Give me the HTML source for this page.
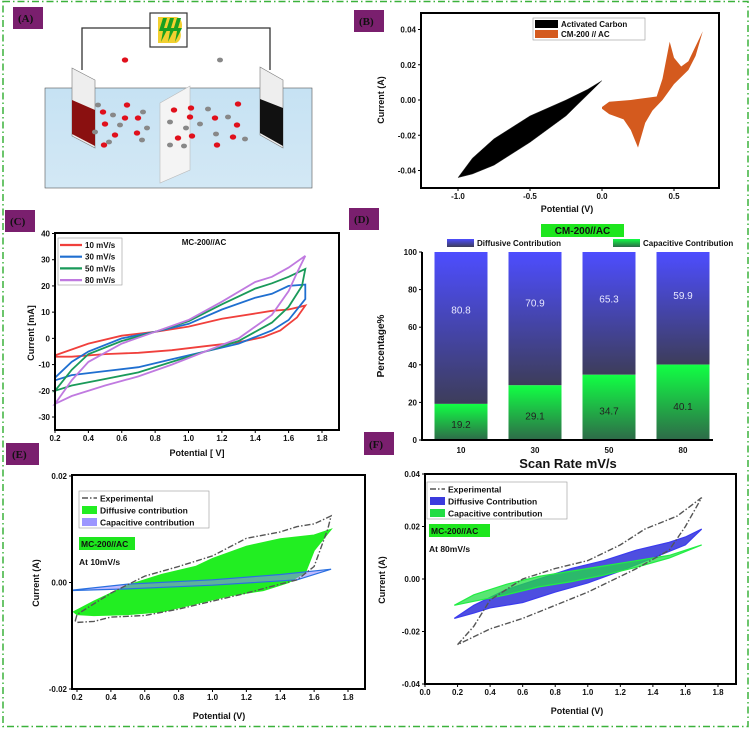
<!DOCTYPE html>
<html><head><meta charset="utf-8">
<style>
html,body{margin:0;padding:0;background:#fff;}
svg{display:block;font-family:"Liberation Sans",Arial,sans-serif;}
.lbl{font-family:"Liberation Serif",serif;font-weight:bold;font-size:11px;fill:#111;}
.tk{font-size:8px;font-weight:bold;fill:#111;}
.at{font-size:9px;font-weight:bold;fill:#111;}
</style></head>
<body>
<svg id="fig" width="752" height="730" viewBox="0 0 752 730">
<defs>
<linearGradient id="gBlue" x1="0" y1="0" x2="0" y2="1"><stop offset="0" stop-color="#4d4dff"/><stop offset="1" stop-color="#3d3d5a"/></linearGradient>
<linearGradient id="gGreen" x1="0" y1="0" x2="0" y2="1"><stop offset="0" stop-color="#11ff44"/><stop offset="1" stop-color="#2e6a48"/></linearGradient>
<linearGradient id="water" x1="0" y1="0" x2="0" y2="1"><stop offset="0" stop-color="#c6e2f3"/><stop offset="1" stop-color="#d3e8f5"/></linearGradient>
</defs>
<rect x="3" y="1.5" width="745" height="725" fill="none" stroke="#3bb23b" stroke-width="1.5" stroke-dasharray="7,3,1.5,3"/>

<!-- Panel A schematic -->
<g>
<rect x="45" y="88" width="267" height="100" fill="url(#water)" stroke="#555" stroke-width="0.6"/>
<polyline points="82,70 82,28 150,28" fill="none" stroke="#333" stroke-width="1.3"/>
<polyline points="187,28 270,28 270,70" fill="none" stroke="#333" stroke-width="1.3"/>
<rect x="150" y="13" width="37" height="34" fill="#fff" stroke="#333" stroke-width="1.2"/>
<path d="M158,17 h18 a6,8 0 0 1 4,14 a6,8 0 0 1 -4,12 h-18 z" fill="#f2d030"/>
<g fill="#1aa020">
<polygon points="163,18 167,18 164,28 168,28 161,42 163,31 159,31"/>
<polygon points="170,18 174,18 171,28 175,28 168,42 170,31 166,31"/>
<polygon points="177,18 181,18 178,28 182,28 175,42 177,31 173,31"/>
</g>
<polygon points="72,68 95,80 95,148 72,136" fill="#eee" stroke="#777" stroke-width="0.6"/>
<polygon points="72,100 95,110 95,146 72,134" fill="#8a1010"/>
<polygon points="260,67 283,80 283,148 260,135" fill="#eee" stroke="#777" stroke-width="0.6"/>
<polygon points="260,99 283,108 283,146 260,133" fill="#111"/>
<polygon points="160,103 190,86 190,170 160,183" fill="#f4f4f4" stroke="#bbb" stroke-width="0.6"/>
<g id="ions"></g>
</g>
<rect x="13" y="7" width="30" height="22" fill="#7a1f6e"/><text class="lbl" x="18" y="22">(A)</text>
<rect x="354" y="10" width="30" height="22" fill="#7a1f6e"/><text class="lbl" x="359" y="25">(B)</text>
<rect x="5" y="210" width="30" height="22" fill="#7a1f6e"/><text class="lbl" x="10" y="225">(C)</text>
<rect x="349" y="208" width="30" height="22" fill="#7a1f6e"/><text class="lbl" x="354" y="223">(D)</text>
<rect x="6" y="443" width="33" height="22" fill="#7a1f6e"/><text class="lbl" x="12" y="458">(E)</text>
<rect x="364" y="432" width="30" height="23" fill="#7a1f6e"/><text class="lbl" x="369" y="448">(F)</text>
<g id="plots"></g>
</svg>
<script>
// ===== Panel B data =====
const bXTicks = [-1.0, -0.5, 0.0, 0.5];
const bYTicks = [0.04, 0.02, 0.00, -0.02, -0.04];
const bAC = [[-1,-0.044],[-0.9,-0.033],[-0.75,-0.022],[-0.5,-0.009],[-0.25,0.0],[-0.1,0.006],[0,0.011],[-0.1,0.003],[-0.25,-0.009],[-0.5,-0.024],[-0.75,-0.037],[-0.9,-0.042],[-1,-0.044]];
const bCM = [[0,-0.004],[0.05,-0.001],[0.2,0.0],[0.38,0.002],[0.42,0.012],[0.47,0.033],[0.5,0.024],[0.55,0.019],[0.6,0.022],[0.7,0.039],[0.65,0.025],[0.6,0.017],[0.5,0.009],[0.42,0.0],[0.35,-0.006],[0.3,-0.013],[0.25,-0.027],[0.2,-0.017],[0.15,-0.011],[0.05,-0.008],[0,-0.005]];
// ===== Panel C data =====
const cXTicks = [0.2,0.4,0.6,0.8,1.0,1.2,1.4,1.6,1.8];
const cYTicks = [40,30,20,10,0,-10,-20,-30];
const cLabels = ["10 mV/s","30 mV/s","50 mV/s","80 mV/s"];
const c10 = [[0.2,-6.5],[0.4,-2],[0.6,1],[0.8,2.5],[1.0,4.5],[1.2,7.5],[1.4,9.5],[1.5,10.5],[1.6,11],[1.7,12.5],[1.65,8],[1.55,3],[1.45,0.5],[1.3,-1.5],[1.1,-3],[0.9,-4.5],[0.7,-5.5],[0.5,-6],[0.3,-7],[0.2,-7]];
const c30 = [[0.2,-15],[0.3,-9],[0.4,-5],[0.6,0],[0.8,2.5],[1.0,5.5],[1.2,11],[1.4,15.5],[1.5,17],[1.6,20],[1.7,20.5],[1.7,15],[1.6,7],[1.5,3],[1.3,-2],[1.1,-5],[0.9,-8],[0.7,-11],[0.5,-12.5],[0.3,-14],[0.2,-16]];
const c50 = [[0.2,-20],[0.3,-12],[0.4,-6],[0.6,-1],[0.8,2.5],[1.0,6.5],[1.2,13],[1.4,19],[1.5,21],[1.6,23.5],[1.7,26.5],[1.68,20],[1.6,12],[1.5,6],[1.3,-1],[1.1,-5],[0.9,-9],[0.7,-13],[0.5,-15.5],[0.3,-18],[0.2,-20]];
const c80 = [[0.2,-25],[0.3,-16],[0.4,-9],[0.6,-2],[0.8,2.5],[1.0,7],[1.2,14],[1.4,21.5],[1.5,23.5],[1.6,27],[1.7,31.5],[1.65,25],[1.6,18],[1.5,9],[1.3,0],[1.1,-5],[0.9,-10],[0.7,-14.5],[0.5,-18],[0.3,-22],[0.2,-25]];
// ===== Panel D data =====
const dCategories = ["10","30","50","80"];
const dCapacitive = [19.2, 29.1, 34.7, 40.1];
const dDiffusive = [80.8, 70.9, 65.3, 59.9];
const dYTicks = [0,20,40,60,80,100];
// ===== Panel E data =====
const eXTicks = [0.2,0.4,0.6,0.8,1.0,1.2,1.4,1.6,1.8];
const eYTicks = [0.02,0.00,-0.02];
const eExp = [[0.19,-0.0072],[0.2,-0.006],[0.4,-0.002],[0.6,0.0012],[0.8,0.003],[1.0,0.005],[1.2,0.0083],[1.4,0.0095],[1.5,0.0105],[1.6,0.011],[1.7,0.0125],[1.68,0.010],[1.6,0.003],[1.5,0.0005],[1.4,-0.0003],[1.2,-0.002],[1.0,-0.0035],[0.8,-0.005],[0.6,-0.0062],[0.4,-0.0065],[0.3,-0.0073],[0.2,-0.0075]];
const eDiff = [[0.18,-0.0055],[0.3,-0.0035],[0.5,-0.0005],[0.7,0.0015],[0.9,0.003],[1.0,0.0045],[1.2,0.0068],[1.4,0.0082],[1.6,0.0089],[1.7,0.010],[1.6,0.006],[1.55,0.002],[1.45,0.0],[1.3,-0.0015],[1.1,-0.0025],[0.9,-0.004],[0.7,-0.0055],[0.5,-0.006],[0.3,-0.0062],[0.2,-0.006]];
const eCap = [[0.18,-0.0014],[0.5,-0.0003],[1.0,0.0005],[1.4,0.0015],[1.7,0.0025],[1.5,0.0005],[1.0,-0.0005],[0.5,-0.0012],[0.18,-0.0015]];
// ===== Panel F data =====
const fXTicks = [0.0,0.2,0.4,0.6,0.8,1.0,1.2,1.4,1.6,1.8];
const fYTicks = [0.04,0.02,0.00,-0.02,-0.04];
const fExp = [[0.2,-0.025],[0.3,-0.018],[0.4,-0.008],[0.6,0.0],[0.8,0.004],[1.0,0.007],[1.2,0.013],[1.35,0.019],[1.55,0.024],[1.7,0.031],[1.6,0.02],[1.5,0.011],[1.3,0.004],[1.2,0.001],[1.0,-0.005],[0.8,-0.010],[0.6,-0.015],[0.4,-0.019],[0.3,-0.022],[0.2,-0.025]];
const fDiff = [[0.18,-0.015],[0.3,-0.010],[0.5,-0.004],[0.7,0.0],[0.9,0.004],[1.1,0.007],[1.3,0.011],[1.5,0.014],[1.6,0.016],[1.7,0.019],[1.6,0.013],[1.4,0.008],[1.2,0.003],[1.0,-0.0015],[0.8,-0.005],[0.6,-0.009],[0.4,-0.011],[0.3,-0.013],[0.18,-0.015]];
const fCap = [[0.18,-0.010],[0.3,-0.006],[0.5,-0.002],[0.7,0.001],[0.9,0.003],[1.1,0.005],[1.3,0.007],[1.5,0.009],[1.7,0.013],[1.5,0.008],[1.3,0.0045],[1.1,0.0015],[0.9,-0.001],[0.7,-0.003],[0.5,-0.006],[0.3,-0.0085],[0.18,-0.010]];

const NS = "http://www.w3.org/2000/svg";
const root = document.getElementById("plots");
function mk(tag, attrs, parent, text){
  const e = document.createElementNS(NS, tag);
  for (const k in attrs) e.setAttribute(k, attrs[k]);
  if (text !== undefined) e.textContent = text;
  (parent || root).appendChild(e);
  return e;
}
function lin(d0,d1,r0,r1){ return v => r0 + (v-d0)/(d1-d0)*(r1-r0); }
function pts(arr, sx, sy){ return arr.map(p => sx(p[0]).toFixed(1)+","+sy(p[1]).toFixed(1)).join(" "); }
function frame(x0,y0,x1,y1,name){
  const r = mk("rect",{x:x0,y:y0,width:x1-x0,height:y1-y0,fill:"none",stroke:"#000","stroke-width":2});
  
  
}
function xAxis(ticks, sx, yb, fmt, name){
  ticks.forEach(t=>{
    const l = mk("line",{x1:sx(t),x2:sx(t),y1:yb,y2:yb+3,stroke:"#000","stroke-width":1});
    
    
    const tx = mk("text",{x:sx(t),y:yb+11,"text-anchor":"middle",class:"tk"},null,fmt(t));
    
    
  });
}
function yAxis(ticks, sy, xl, fmt, name){
  ticks.forEach(t=>{
    const l = mk("line",{x1:xl-3,x2:xl,y1:sy(t),y2:sy(t),stroke:"#000","stroke-width":1});
    
    
    const tx = mk("text",{x:xl-5,y:sy(t)+3,"text-anchor":"end",class:"tk"},null,fmt(t));
    
    
  });
}
function title(x,y,txt,rot,name,size){
  const a = {x:x,y:y,"text-anchor":"middle",class:"at"};
  if (size) a.style = "font-size:"+size+"px";
  if (rot) a.transform = "rotate(-90 "+x+" "+y+")";
  const t = mk("text",a,null,txt);
  
  
  return t;
}
const f2 = t => t.toFixed(2);
const f1 = t => t.toFixed(1);

// ===== Panel B =====
{
  const sx = lin(-1,0,458,602), sy = lin(0,0.04,100,29.5);
  const s1 = mk("polygon",{points:pts(bAC,sx,sy),fill:"#000",stroke:"#333","stroke-width":0.5});
  
  
  const s2 = mk("polygon",{points:pts(bCM,sx,sy),fill:"#d45a1e"});
  
  
  frame(421,13,719,188,'panel-b-plot-frame');
  xAxis(bXTicks,sx,188,f1,'panel-b-x');
  yAxis(bYTicks,sy,421,f2,'panel-b-y');
  title(567,212,"Potential (V)",false,'panel-b-x-title');
  title(384,100,"Current (A)",true,'panel-b-y-title');
  const lg = mk("rect",{x:533,y:18,width:112,height:22,fill:"#fff",stroke:"#999","stroke-width":0.6});
  
  
  [["#000","Activated Carbon"],["#d45a1e","CM-200 // AC"]].forEach((e,i)=>{
    const sw = mk("rect",{x:535,y:20+i*10,width:23,height:8,fill:e[0]});
    
    
    const t = mk("text",{x:561,y:27+i*10,class:"tk"},null,e[1]);
    
    
  });
}

// ===== Panel C =====
{
  const sx = lin(0.2,1.8,55,322), sy = lin(40,-30,233.5,417);
  const cols = ["#f0403c","#1f6fd0","#1a9a5a","#c07ae0"];
  [c10,c30,c50,c80].forEach((s,i)=>{
    const p = mk("polygon",{points:pts(s,sx,sy),fill:"none",stroke:cols[i],"stroke-width":1.8});
    
    
  });
  frame(55,233,339,430,'panel-c-plot-frame');
  xAxis(cXTicks,sx,430,f1,'panel-c-x');
  yAxis(cYTicks,sy,55,t=>String(t),'panel-c-y');
  title(197,456,"Potential [ V]",false,'panel-c-x-title');
  title(34,333,"Current [mA]",true,'panel-c-y-title');
  const tt = mk("text",{x:204,y:245,"text-anchor":"middle",class:"tk"},null,"MC-200//AC");
  
  
  const lg = mk("rect",{x:58,y:238,width:64,height:47,fill:"#fff",stroke:"#999","stroke-width":0.6});
  
  
  cLabels.forEach((l,i)=>{
    const y = 245+i*11.7;
    const ln = mk("line",{x1:60,x2:82,y1:y,y2:y,stroke:cols[i],"stroke-width":2.2});
    
    
    const t = mk("text",{x:85,y:y+3,class:"tk"},null,l);
    
    
  });
}

// ===== Panel D =====
{
  const sy = lin(0,100,440,252);
  const band = 74, bw = 53, x0 = 424;
  const cx = i => x0 + band*(i+0.5);
  dCategories.forEach((c,i)=>{
    const gH = sy(0)-sy(dCapacitive[i]);
    const bTop = sy(dCapacitive[i]+dDiffusive[i]);
    const b1 = mk("rect",{x:cx(i)-bw/2,y:bTop,width:bw,height:sy(dCapacitive[i])-bTop,fill:"url(#gBlue)"});
    
    
    const b2 = mk("rect",{x:cx(i)-bw/2,y:sy(dCapacitive[i]),width:bw,height:gH,fill:"url(#gGreen)"});
    
    
    const t1 = mk("text",{x:cx(i),y:sy(dCapacitive[i]+dDiffusive[i]*0.62)+4,"text-anchor":"middle","font-size":"10","fill":"#e8e8ff"},null,dDiffusive[i].toFixed(1));
    
    
    const t2 = mk("text",{x:cx(i),y:sy(dCapacitive[i]*0.45)+4,"text-anchor":"middle","font-size":"10","fill":"#222"},null,dCapacitive[i].toFixed(1));
    
    
    const tk = mk("text",{x:cx(i),y:453,"text-anchor":"middle",class:"tk"},null,c);
    
    
  });
  const ax = mk("polyline",{points:"422,252 422,440 713,440",fill:"none",stroke:"#000","stroke-width":2});
  
  
  yAxis(dYTicks,sy,422,t=>String(t),'panel-d-y');
  title(568,468,"Scan Rate mV/s",false,'panel-d-x-title',13);
  title(384,346,"Percentage%",true,'panel-d-y-title',10);
  const tb = mk("rect",{x:541,y:224,width:83,height:13,fill:"#1ee61e"});
  
  
  const tt = mk("text",{x:582.5,y:234,"text-anchor":"middle","font-size":"10","font-weight":"bold",fill:"#111"},null,"CM-200//AC");
  
  
  const s1 = mk("rect",{x:447,y:239,width:27,height:8,fill:"url(#gBlue)"});
  
  
  const l1 = mk("text",{x:477,y:246,class:"tk"},null,"Diffusive Contribution");
  
  
  const s2 = mk("rect",{x:613,y:239,width:27,height:8,fill:"url(#gGreen)"});
  
  
  const l2 = mk("text",{x:643,y:246,class:"tk"},null,"Capacitive Contribution");
  
  
}

// ===== Panel E / F helper =====
function cvPanel(o){
  const sx = lin(o.xd[0],o.xd[1],o.xr[0],o.xr[1]), sy = lin(o.yd[0],o.yd[1],o.yr[0],o.yr[1]);
  o.fills.forEach(f=>{
    const p = mk("polygon",{points:pts(f.d,sx,sy),fill:f.fill,stroke:f.stroke,"stroke-width":1.2,"fill-opacity":f.op});
    
    
  });
  const e = mk("polygon",{points:pts(o.exp,sx,sy),fill:"none",stroke:"#555","stroke-width":1.4,"stroke-dasharray":"6,2,1.5,2"});
  
  
  frame(o.box[0],o.box[1],o.box[2],o.box[3],o.p+'-plot-frame');
  xAxis(o.xt,sx,o.box[3],f1,o.p+'-x');
  yAxis(o.yt,sy,o.box[0],f2,o.p+'-y');
  title(o.xtitle[0],o.xtitle[1],"Potential (V)",false,o.p+'-x-title');
  title(o.ytitle[0],o.ytitle[1],"Current (A)",true,o.p+'-y-title');
  const L = o.leg;
  const lg = mk("rect",{x:L[0],y:L[1],width:L[2],height:37,fill:"#fff",stroke:"#999","stroke-width":0.6});
  
  
  const dl = mk("line",{x1:L[0]+3,x2:L[0]+18,y1:L[1]+7,y2:L[1]+7,stroke:"#555","stroke-width":1.6,"stroke-dasharray":"6,2,1.5,2"});
  
  
  o.legNames.forEach((n,i)=>{
    if (i>0){
      const sw = mk("rect",{x:L[0]+3,y:L[1]+3+i*12,width:15,height:8,fill:o.legCols[i]});
      
      
    }
    const t = mk("text",{x:L[0]+21,y:L[1]+10.5+i*12,"font-size":"8.5","font-weight":"bold",fill:"#111"},null,n);
    
    
  });
  const G = o.tag;
  const gb = mk("rect",{x:G[0],y:G[1],width:G[2],height:13,fill:"#1ee61e"});
  
  
  const gt = mk("text",{x:G[0]+2,y:G[1]+10,"font-size":"8.5","font-weight":"bold",fill:"#111"},null,"MC-200//AC");
  
  
  const rt = mk("text",{x:G[0],y:G[1]+28,"font-size":"8.5","font-weight":"bold",fill:"#111"},null,o.rate);
  
  
}
cvPanel({p:'panel-e',xd:[0.2,1.8],xr:[77,348],yd:[0.02,-0.02],yr:[476,689],box:[72,475,365,689],
  xt:eXTicks,yt:eYTicks,exp:eExp,
  fills:[{d:eDiff,fill:"#22ee22",stroke:"#22ee22",op:1,name:'panel-e-diffusive-area'},{d:eCap,fill:"#8c82ff",stroke:"#2a70e0",op:0.55,name:'panel-e-capacitive-area'}],
  xtitle:[219,719],ytitle:[39,583],leg:[79,491,130],legNames:["Experimental","Diffusive contribution","Capacitive contribution"],legCols:["#555","#22ee22","#9c96ff"],
  tag:[79,537,56],rate:"At 10mV/s"});
cvPanel({p:'panel-f',xd:[0,1.8],xr:[425,718],yd:[0.04,-0.04],yr:[474,684],box:[425,474,736,684],
  xt:fXTicks,yt:fYTicks,exp:fExp,
  fills:[{d:fDiff,fill:"#3b3bdd",stroke:"#3b3bee",op:0.9,name:'panel-f-diffusive-area'},{d:fCap,fill:"#22dd44",stroke:"#22ee44",op:0.75,name:'panel-f-capacitive-area'}],
  xtitle:[577,714],ytitle:[385,580],leg:[427,482,140],legNames:["Experimental","Diffusive Contribution","Capacitive contribution"],legCols:["#555","#3b3bdd","#22dd44"],
  tag:[429,524,61],rate:"At 80mV/s"});

// ===== Panel A ions (decorative) =====
const ionG = document.getElementById("ions");
const redIons = [[103,112],[127,105],[105,124],[125,118],[138,118],[115,135],[137,133],[174,110],[191,108],[190,117],[215,118],[238,104],[237,125],[233,137],[178,138],[192,136],[217,145],[125,60],[104,145]];
const grayIons = [[98,105],[113,115],[120,125],[95,132],[109,142],[143,112],[147,128],[142,140],[208,109],[228,117],[200,124],[216,134],[245,139],[170,122],[186,128],[170,145],[184,146],[220,60]];
redIons.forEach(p=>{
  const c = mk("ellipse",{cx:p[0],cy:p[1],rx:3.2,ry:2.6,fill:"#e0101c"},ionG);
  
  
});
grayIons.forEach(p=>{
  const c = mk("ellipse",{cx:p[0],cy:p[1],rx:3,ry:2.4,fill:"#888"},ionG);
  
  
});
</script>
</body></html>
